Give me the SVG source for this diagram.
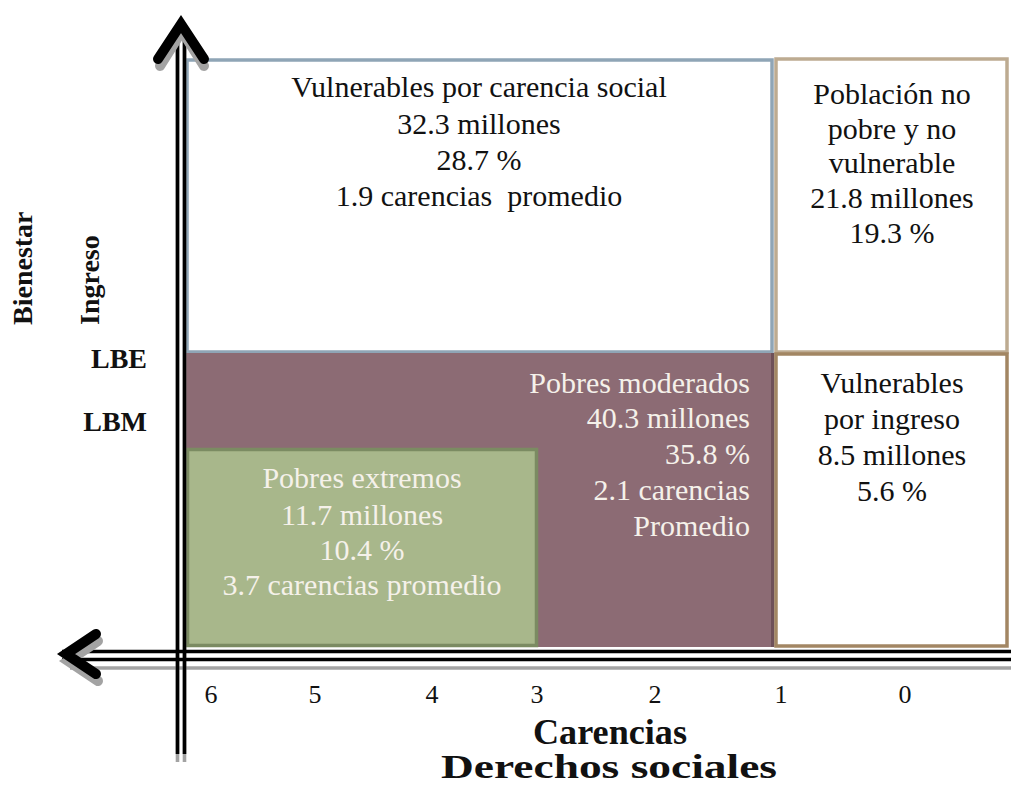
<svg xmlns="http://www.w3.org/2000/svg" width="1011" height="787" viewBox="0 0 1011 787">
<style>
text{font-family:"Liberation Serif","Times New Roman",serif;}
.t{font-size:30px;fill:#111;text-anchor:middle;}
.w{font-size:30px;fill:#F5F1EA;}
.ax{font-size:26px;fill:#111;text-anchor:middle;}
.b{font-weight:bold;fill:#111;}
.ln{stroke:#000;stroke-width:3.6;fill:none;}
.sh{stroke:#A3A3A3;stroke-width:3.6;fill:none;}
.ah{stroke:#000;stroke-width:10;fill:none;stroke-linecap:round;stroke-linejoin:miter;stroke-miterlimit:10;}
.ahs{stroke:#A3A3A3;stroke-width:10;fill:none;stroke-linecap:round;stroke-linejoin:miter;stroke-miterlimit:10;}
</style>
<rect width="1011" height="787" fill="#fff"/>

<g id="vuln-carencia">
<rect x="187" y="60" width="585" height="292" fill="#fff" stroke="#8FA5B6" stroke-width="3.5"/>
<text class="t" x="479" y="97">Vulnerables por carencia social</text>
<text class="t" x="479" y="134">32.3 millones</text>
<text class="t" x="479" y="170">28.7 %</text>
<text class="t" x="479" y="206">1.9 carencias&#160; promedio</text>
</g>

<g id="no-pobre">
<rect x="776" y="59" width="231" height="293" fill="#fff" stroke="#BDAB91" stroke-width="3.5"/>
<text class="t" x="892" y="104">Población no</text>
<text class="t" x="892" y="139">pobre y no</text>
<text class="t" x="892" y="173">vulnerable</text>
<text class="t" x="892" y="208">21.8 millones</text>
<text class="t" x="892" y="243">19.3 %</text>
</g>

<g id="pobres-moderados">
<rect x="186" y="353" width="588" height="294" fill="#8C6B74"/>
<rect x="771" y="353" width="3.5" height="294" fill="#6E5058"/>
<text class="w" x="750" y="393" text-anchor="end">Pobres moderados</text>
<text class="w" x="750" y="428" text-anchor="end">40.3 millones</text>
<text class="w" x="750" y="464" text-anchor="end">35.8 %</text>
<text class="w" x="750" y="500" text-anchor="end">2.1 carencias</text>
<text class="w" x="750" y="536" text-anchor="end">Promedio</text>
</g>

<g id="vuln-ingreso">
<rect x="776" y="354" width="231" height="292" fill="#fff" stroke="#A28663" stroke-width="3.5"/>
<text class="t" x="892" y="393">Vulnerables</text>
<text class="t" x="892" y="429">por ingreso</text>
<text class="t" x="892" y="465">8.5 millones</text>
<text class="t" x="892" y="501">5.6 %</text>
</g>

<g id="pobres-extremos">
<rect x="187.5" y="449.5" width="349" height="196" fill="#A8B78B" stroke="#7B8B62" stroke-width="3.5"/>
<text class="w" x="362" y="488" text-anchor="middle">Pobres extremos</text>
<text class="w" x="362" y="525" text-anchor="middle">11.7 millones</text>
<text class="w" x="362" y="560" text-anchor="middle">10.4 %</text>
<text class="w" x="362" y="595" text-anchor="middle">3.7 carencias promedio</text>
</g>

<g id="axes">
<line class="sh" x1="70" y1="668" x2="1011" y2="668"/>
<line class="sh" x1="177.5" y1="40" x2="177.5" y2="762"/>
<line class="sh" x1="184.5" y1="40" x2="184.5" y2="762"/>
<line class="ln" x1="177.5" y1="30" x2="177.5" y2="754"/>
<line class="ln" x1="184.5" y1="30" x2="184.5" y2="754"/>
<line class="ln" x1="62" y1="651.5" x2="1011" y2="651.5"/>
<line class="ln" x1="62" y1="659.5" x2="1011" y2="659.5"/>
<polyline class="ahs" points="160,66 182,31 204,66"/>
<polyline class="ah" points="158,59 181,24 204,59"/>
<polyline class="ahs" points="98,641 68,661 98,681"/>
<polyline class="ah" points="96,634 66,654 96,674"/>
</g>

<g id="axis-labels">
<text class="ax" x="211" y="703">6</text>
<text class="ax" x="315" y="703">5</text>
<text class="ax" x="432" y="703">4</text>
<text class="ax" x="537" y="703">3</text>
<text class="ax" x="655" y="703">2</text>
<text class="ax" x="781" y="703">1</text>
<text class="ax" x="905" y="703">0</text>
<text class="b" x="533" y="744" font-size="35" textLength="154" lengthAdjust="spacingAndGlyphs">Carencias</text>
<text class="b" x="441" y="778" font-size="33" textLength="336" lengthAdjust="spacingAndGlyphs">Derechos sociales</text>
<text class="b" font-size="28" transform="translate(32,325) rotate(-90)">Bienestar</text>
<text class="b" font-size="28" transform="translate(99,325) rotate(-90)">Ingreso</text>
<text class="b" x="147" y="368" font-size="28" text-anchor="end">LBE</text>
<text class="b" x="147" y="431" font-size="28" text-anchor="end">LBM</text>
</g>
</svg>
